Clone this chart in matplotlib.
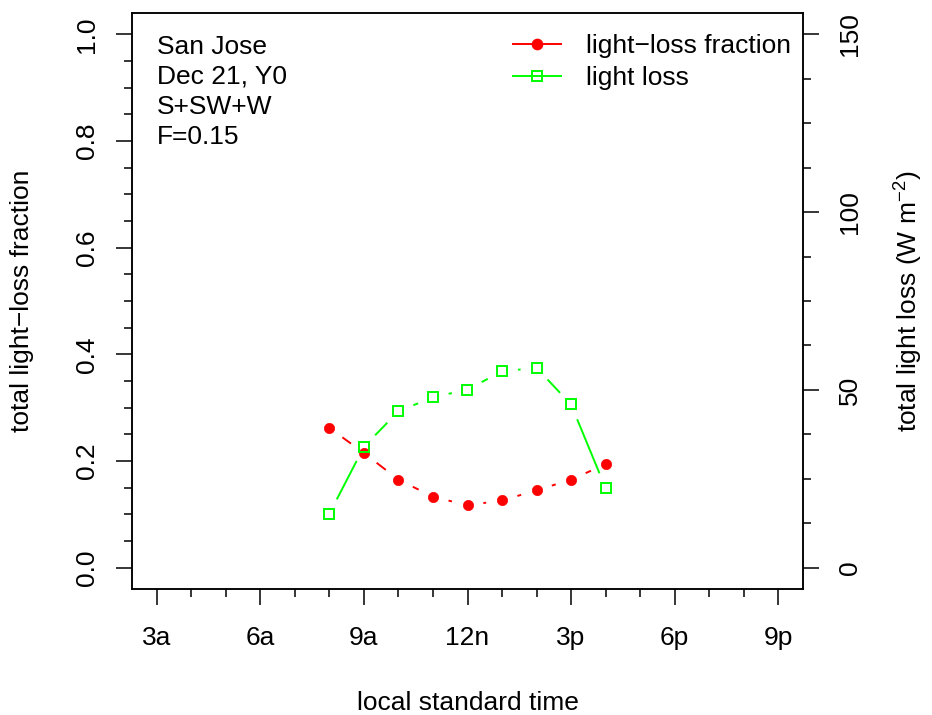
import numpy as np
import matplotlib
matplotlib.use("Agg")
import matplotlib.pyplot as plt
from matplotlib.ticker import MultipleLocator
from matplotlib.lines import Line2D

plt.rcParams['font.family'] = ['Liberation Sans', 'DejaVu Sans']
plt.rcParams['font.size'] = 19
plt.rcParams['mathtext.default'] = 'regular'

# hours of the day (local standard time)
hours = [8, 9, 10, 11, 12, 13, 14, 15, 16]
# total light-loss fraction (left axis)
loss_frac = [0.262, 0.215, 0.165, 0.133, 0.117, 0.126, 0.145, 0.165, 0.194]
# total light loss, W m-2 (right axis)
loss_wm2 = [15.2, 34.0, 44.0, 47.9, 50.1, 55.2, 56.2, 45.9, 22.4]

xtick_pos = [3, 6, 9, 12, 15, 18, 21]
xtick_lab = ['3a', '6a', '9a', '12n', '3p', '6p', '9p']
info_lines = ['San Jose', 'Dec 21, Y0', 'S+SW+W', 'F=0.15']

RED = '#FF0000'
GREEN = '#00FF00'
W, H = 932, 715
GAP = 16  # px gap between points and line ends, like R type="b"
LW = 1.4

fig = plt.figure(figsize=(W / 100, H / 100), dpi=100)
ax = fig.add_axes([132 / W, 1 - 589 / H, (803 - 132) / W, (589 - 13) / H])
ax2 = ax.twinx()

ax.set_xlim(2.28, 21.72)
ax.set_ylim(-0.04, 1.04)
ax2.set_ylim(-6, 156)


def draw_b(a, xs, ys, color, marker, ms, mfc, mew):
    # line segments broken around each point
    pts = a.transData.transform(np.column_stack([xs, ys]))
    inv = a.transData.inverted()
    for i in range(len(pts) - 1):
        p, q = pts[i], pts[i + 1]
        d = np.hypot(*(q - p))
        if d <= 2 * GAP:
            continue
        u = (q - p) / d
        seg = inv.transform([p + u * GAP, q - u * GAP])
        a.plot(seg[:, 0], seg[:, 1], color=color, lw=LW, solid_capstyle='butt')
    a.plot(xs, ys, ls='none', marker=marker, ms=ms, mfc=mfc, mec=color,
           mew=mew, color=color)


draw_b(ax, hours, loss_frac, RED, 'o', 7.4, RED, 0.5)
draw_b(ax2, hours, loss_wm2, GREEN, 's', 7.4, 'none', 1.4)

# axes ticks
ax.set_xticks(xtick_pos)
ax.set_xticklabels(xtick_lab)
ax.xaxis.set_minor_locator(MultipleLocator(1))
ax.set_yticks([0, 0.2, 0.4, 0.6, 0.8, 1.0])
ax.set_yticklabels(['0.0', '0.2', '0.4', '0.6', '0.8', '1.0'], rotation=90, va='center')
ax.yaxis.set_minor_locator(MultipleLocator(0.05))
ax2.set_yticks([0, 50, 100, 150])
ax2.set_yticklabels(['0', '50', '100', '150'], rotation=90, va='center')
ax2.yaxis.set_minor_locator(MultipleLocator(12.5))

for a in (ax, ax2):
    a.tick_params(which='major', direction='out', length=11.5, width=1.1)
    a.tick_params(which='minor', direction='out', length=5.8, width=1.1)
    for s in a.spines.values():
        s.set_linewidth(1.1)
ax.tick_params(axis='x', which='major', pad=15)
ax.tick_params(axis='y', which='major', pad=12)
ax2.tick_params(axis='y', which='major', pad=14)

ax.set_xlabel('local standard time', va='center')
ax.xaxis.set_label_coords(0.5, (589 - 703) / 576)
ax.set_ylabel('total light\u2212loss fraction', va='center')
ax.yaxis.set_label_coords((22 - 132) / 671, 0.5)
ax2.set_ylabel('total light loss (W m$^{-2}$)', va='center', rotation=90)
ax2.yaxis.set_label_coords((909 - 132) / 671, 0.5)

# info text, top left
for i, line in enumerate(info_lines):
    ax.text((157 - 132) / 671, (589 - 47 - 30 * i) / 576, line,
            transform=ax.transAxes, ha='left', va='center')

handles = [
    Line2D([], [], color=RED, lw=LW, marker='o', ms=7.4, mfc=RED, mec=RED),
    Line2D([], [], color=GREEN, lw=LW, marker='s', ms=7.4, mfc='none', mec=GREEN, mew=1.4),
]
ax2.legend(handles, ['light\u2212loss fraction', 'light loss'], loc='upper left',
           bbox_to_anchor=(513 / W, 1 - 34 / H), bbox_transform=fig.transFigure,
           frameon=False, borderpad=0, borderaxespad=0, handlelength=1.82,
           handletextpad=0.95, labelspacing=0.3, numpoints=1)

fig.savefig('out.png', dpi=100)
